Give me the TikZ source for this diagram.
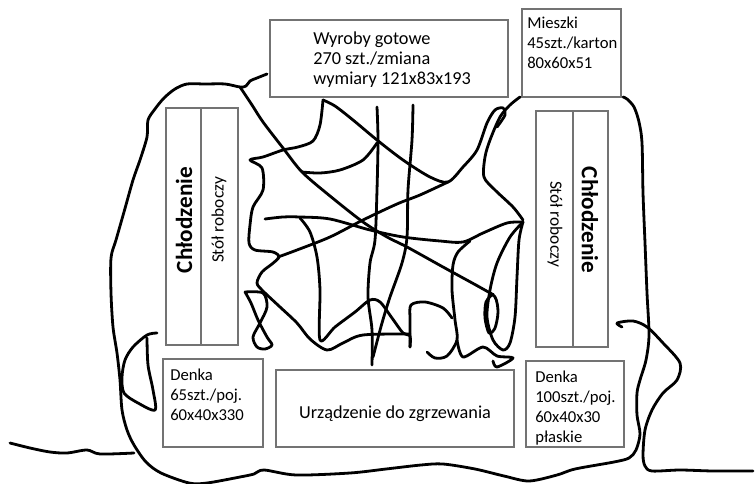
\documentclass[tikz,border=0pt]{standalone}
\usepackage{fontspec}
\setmainfont{Carlito}
\usetikzlibrary{positioning}

\begin{document}
\begin{tikzpicture}[x=0.75pt,y=-0.75pt]
        % Setup the styles for boxes, texts and the hand drawn lines
        \tikzset{box style/.style={draw=black!55, line width=0.8pt},
                 label style/.style={font=\fontsize{13.7}{15}\selectfont,
                                     align=left, inner sep=0pt},
                 small label/.style={label style, font=\fontsize{12.5}{15}\selectfont},
                 side label/.style={label style, font=\fontsize{13}{15}\selectfont},
                 title style/.style={font=\fontsize{17.4}{20}\selectfont\bfseries,
                                     inner sep=0pt},
                 hand/.style={line width=2.1pt, line cap=round, line join=round,
                              smooth, tension=0.5}}

        \useasboundingbox (0,0) rectangle (755,484);

        % Draw the boxes
        \draw[box style] (270,20) rectangle (508,97);
        \draw[box style] (522,9) rectangle (621,97);
        \draw[box style] (166,108) rectangle (238,345);
        \draw[box style] (201,108) -- (201,345);
        \draw[box style] (536,111) rectangle (608,347);
        \draw[box style] (573,111) -- (573,347);
        \draw[box style] (163,359) rectangle (263,447);
        \draw[box style] (276,370) rectangle (514,447);
        \draw[box style] (526,361) rectangle (624,447);

        % Put the texts
        \node[label style, anchor=west] at (313,60) (wyroby) {Wyroby gotowe\\270 szt./zmiana\\wymiary 121x83x193};
        \node[small label, anchor=north west] at (527,16.5) (mieszki) {Mieszki\\45szt./karton\\80x60x51};
        \node[title style, rotate=90] at (184,220) (chlodzenie left) {Chłodzenie};
        \node[side label, rotate=90] at (219,220) (stol left) {Stół roboczy};
        \node[side label, rotate=-90] at (555,224) (stol right) {Stół roboczy};
        \node[title style, rotate=-90] at (590,220) (chlodzenie right) {Chłodzenie};
        \node[small label, anchor=north west] at (170,368.5) (denka left) {Denka\\65szt./poj.\\60x40x330};
        \node[label style] at (395,414) (urzadzenie) {Urządzenie do zgrzewania};
        \node[small label, anchor=north west] at (535,370.5) (denka right) {Denka\\100szt./poj.\\60x40x30\\płaskie};

        % Outer outline
        \draw[hand] plot coordinates {(267,74) (257,78) (250,81) (246,86) (240,87) (225,84) (205,84) (187,84) (175,89) (164,98) (155,109) (148,120) (147,137) (140,160) (133,180) (124,212) (116,240) (111,258) (111,293) (113,327) (117,353) (120,380) (122,410) (127,430) (134,445) (146,462) (161,473) (189,483) (207,483) (240,477) (254,474) (264,470) (296,475) (350,473) (386,469) (421,465) (443,464) (475,469) (504,476) (529,481) (557,475) (575,469) (614,462) (629,458) (636,450) (640,434) (637,415) (637,393) (640,380) (646,360) (649,335) (647,293) (645,243) (643,193) (642,143) (639,122) (634,107) (627,99) (623,97)};
        \draw[hand] plot coordinates {(10,443) (30,448) (50,452) (67,453) (87,450) (100,454) (134,453)};
        \draw[hand] plot coordinates {(157,333) (147,335) (133,347) (125,360) (122,377) (124,393) (138,403) (155,410) (153,390) (148,365) (147,338)};
        \draw[hand] plot coordinates {(622,327) (617,323) (633,321) (647,327) (663,343) (680,363) (677,380) (663,393) (652,410) (645,430) (643,455) (645,466) (652,471) (680,470) (713,471) (753,471)};
        \draw[hand] plot coordinates {(520,97) (510,105) (500,117) (490,140) (485,157) (484,177) (495,190) (513,207) (523,220)};

        % Scribble in the middle
        \draw[hand] plot coordinates {(240,87) (252,105) (263,122) (283,148) (302,172) (330,196) (363,222) (387,237) (407,247) (443,267) (483,289) (495,297) (498,312) (495,328) (489,333) (485,318) (486,302) (493,294)};
        \draw[hand] plot coordinates {(323,100) (320,125) (313,141) (298,147) (283,150) (263,157) (250,160) (262,168) (263,190) (253,207) (250,225) (249,243) (255,250) (273,252) (279,257) (272,264) (262,272) (257,283) (263,291) (280,307) (297,323) (310,339) (327,350) (343,343) (363,335) (410,334)};
        \draw[hand] plot coordinates {(323,100) (335,106) (353,120) (377,140) (403,160) (430,177) (448,182) (463,167) (477,150) (487,123) (495,110) (503,108) (505,115) (497,127)};
        \draw[hand] plot coordinates {(265,219) (283,217) (300,217) (330,219) (370,230) (403,237) (440,241) (463,242) (483,233) (507,223) (523,222)};
        \draw[hand] plot coordinates {(377,107) (378,140) (377,190) (375,240) (370,263) (368,297) (372,330) (372,365)};
        \draw[hand] plot coordinates {(413,105) (412,140) (408,190) (407,237) (402,263) (390,297) (382,323) (373,357)};
        \draw[hand] plot coordinates {(300,218) (310,232) (317,257) (320,290) (320,340) (335,327) (355,312) (370,300) (380,302) (392,318) (403,333) (410,336) (410,347)};
        \draw[hand] plot coordinates {(448,182) (420,195) (397,204) (363,220) (330,237) (297,250) (278,257)};
        \draw[hand] plot coordinates {(302,172) (320,173) (340,170) (363,160) (377,143)};
        \draw[hand] plot coordinates {(245,292) (263,293) (267,307) (260,323) (253,337) (257,347) (265,349) (272,345) (267,337) (258,320) (251,303) (245,292)};
        \draw[hand] plot coordinates {(410,347) (410,320) (411,305) (425,302) (443,308) (452,318)};
        \draw[hand] plot coordinates {(470,241) (458,252) (453,265) (452,290) (455,320) (457,340) (447,356) (435,358) (427,352)};
        \draw[hand] plot coordinates {(457,340) (463,357) (483,347) (497,356) (513,358) (497,367) (493,361)};
        \draw[hand] plot coordinates {(523,222) (519,240) (517,277) (515,317) (510,343) (503,350) (493,340) (487,317) (490,290) (497,263) (510,237) (523,222)};
\end{tikzpicture}
\end{document}
